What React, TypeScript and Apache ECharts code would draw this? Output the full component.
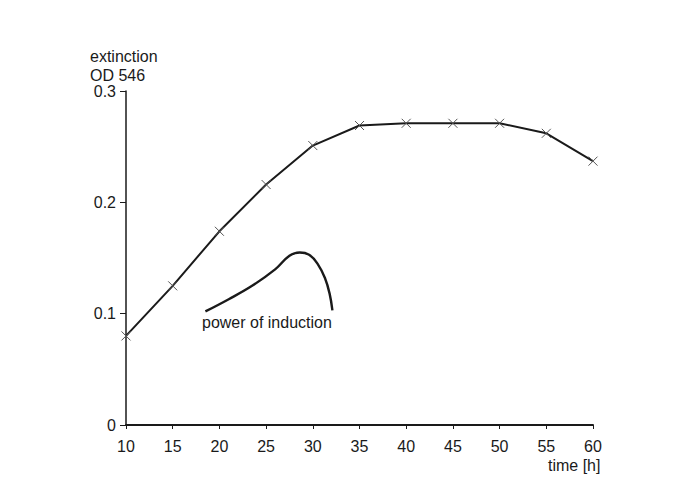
import React, { useEffect, useRef } from "react";
import * as echarts from "echarts";

// Growth curve: extinction (OD 546) over time
const hours = [10, 15, 20, 25, 30, 35, 40, 45, 50, 55, 60];
const extinction = [0.08, 0.125, 0.174, 0.216, 0.251, 0.269, 0.271, 0.271, 0.271, 0.262, 0.237];

// Hand-drawn curve for the power of induction
const inductionHours = [18.5, 21, 23.5, 26, 27.5, 28.6, 29.6, 30.5, 31.3, 31.8, 32.1];
const inductionValues = [0.102, 0.113, 0.125, 0.14, 0.152, 0.155, 0.153, 0.145, 0.132, 0.118, 0.103];

const yTicks = [0, 0.1, 0.2, 0.3];

const FONT = "Liberation Sans, Arial, sans-serif";
const INK = "#1a1a1a";

export default function App() {
  const ref = useRef<HTMLDivElement>(null);

  useEffect(() => {
    if (!ref.current) return;
    const chart = echarts.init(ref.current, null, { renderer: "svg" });
    chart.setOption({
      animation: false,
      backgroundColor: "#ffffff",
      grid: { left: 118, right: 95, top: 83, bottom: 61 },
      xAxis: {
        type: "value",
        min: 10,
        max: 60,
        interval: 5,
        axisLine: { lineStyle: { color: INK, width: 2 } },
        axisTick: { show: true, length: 4, lineStyle: { color: INK, width: 1 } },
        axisLabel: { color: INK, fontFamily: FONT, fontSize: 16, margin: 13 },
        splitLine: { show: false },
      },
      yAxis: {
        type: "value",
        min: yTicks[0],
        max: yTicks[yTicks.length - 1],
        interval: 0.1,
        axisLine: { show: true, lineStyle: { color: INK, width: 1.5 } },
        axisTick: { show: true, length: 6, lineStyle: { color: INK, width: 1 } },
        axisLabel: {
          color: INK,
          fontFamily: FONT,
          fontSize: 16,
          margin: 10,
          formatter: (v: number) => (v === 0 ? "0" : v.toFixed(1)),
        },
        splitLine: { show: false },
      },
      series: [
        {
          type: "line",
          data: hours.map((h, i) => [h, extinction[i]]),
          symbol: "path://M0,0L10,10M10,0L0,10",
          symbolSize: 9,
          showSymbol: true,
          lineStyle: { color: INK, width: 2 },
          itemStyle: { color: "none", borderColor: "#555", borderWidth: 1 },
          z: 3,
        },
        {
          type: "line",
          data: inductionHours.map((h, i) => [h, inductionValues[i]]),
          smooth: 0.4,
          symbol: "none",
          lineStyle: { color: INK, width: 2.4 },
          z: 2,
        },
      ],
      graphic: [
        {
          type: "text",
          left: 82,
          top: 39,
          style: {
            text: "extinction\nOD 546",
            fill: INK,
            font: `16px ${FONT}`,
            lineHeight: 19,
          },
        },
        {
          type: "text",
          left: 540,
          top: 449,
          style: { text: "time [h]", fill: INK, font: `16px ${FONT}` },
        },
        {
          type: "text",
          left: 194,
          top: 306,
          style: { text: "power of induction", fill: INK, font: `16px ${FONT}` },
        },
      ],
    });
    return () => chart.dispose();
  }, []);

  return <div ref={ref} style={{ width: 680, height: 478 }} />;
}
